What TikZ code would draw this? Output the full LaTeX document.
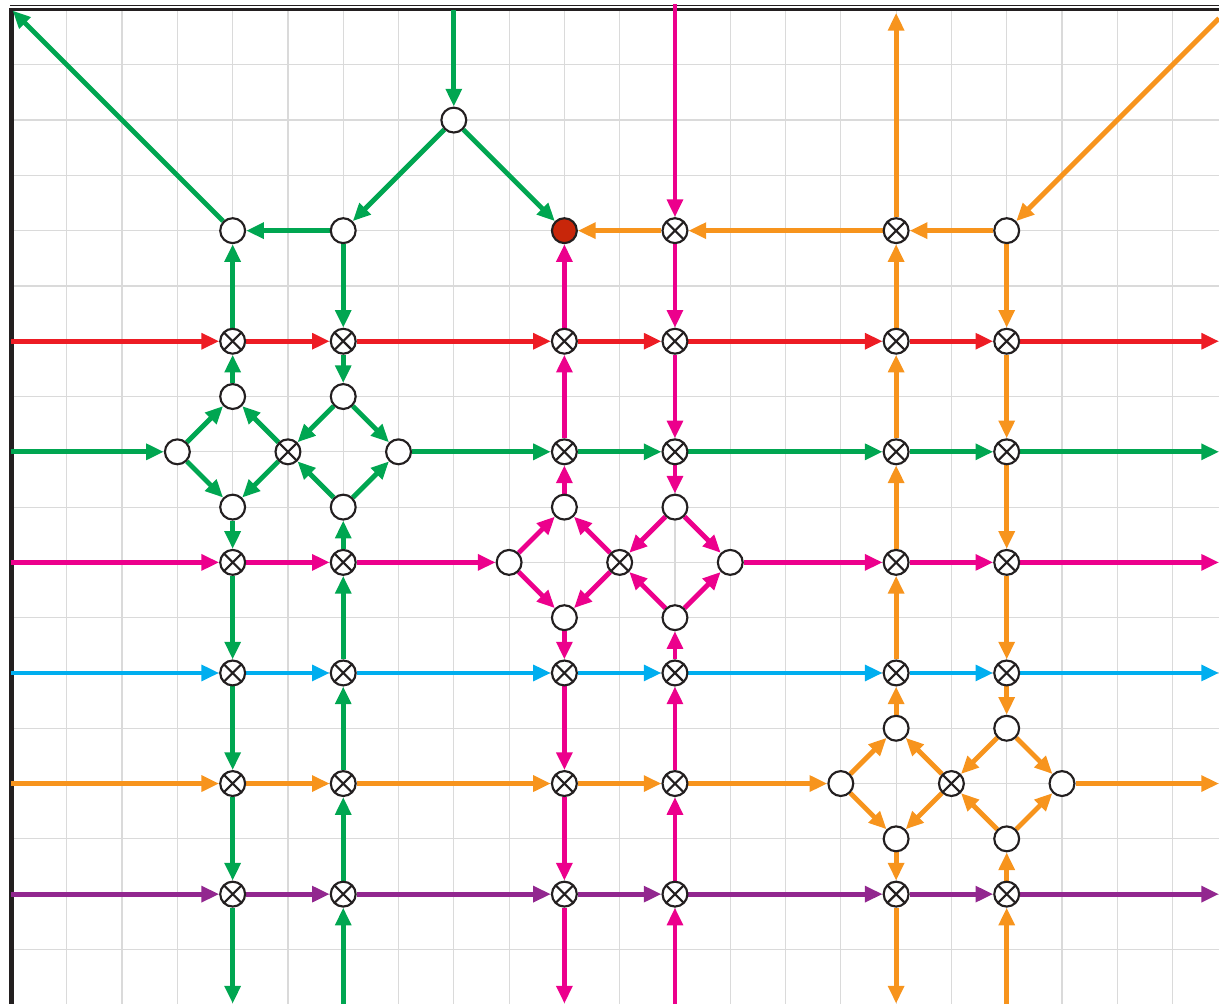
\documentclass[tikz,border=0pt]{standalone}
\usetikzlibrary{arrows.meta,backgrounds}
\definecolor{ink}{HTML}{231F20}
\definecolor{gridgray}{HTML}{DADADA}
\definecolor{sinkred}{HTML}{C8260A}
\definecolor{lgreen}{HTML}{00A651}
\definecolor{lred}{HTML}{ED1C24}
\definecolor{lpink}{HTML}{EC008C}
\definecolor{lblue}{HTML}{00AEEF}
\definecolor{lorange}{HTML}{F7941D}
\definecolor{lpurple}{HTML}{92278F}

\begin{document}
\begin{tikzpicture}[
      x=1cm, y=-1cm,
      hub/.style={circle, draw=ink, line width=1.1pt, fill=white,
                  minimum size=4.5mm, inner sep=0pt},
      mixer/.style={hub, path picture={
          \draw[ink, line width=1.1pt]
            (path picture bounding box.south west) -- (path picture bounding box.north east)
            (path picture bounding box.north west) -- (path picture bounding box.south east);}},
      sink/.style={hub, fill=sinkred},
      flow/.style={draw=#1, fill=#1, line width=2.5pt,
                   -{Triangle[length=3.2mm, width=2.8mm]}},
      gridline/.style={draw=gridgray, line width=0.6pt},
    ]
      \useasboundingbox (-0.208,-0.172) rectangle (21.84,17.98);

      % nodes, row by row
      \node[hub] (n8-2) at (8,2) {};
      \node[hub] (n4-4) at (4,4) {};   \node[hub] (n6-4) at (6,4) {};
      \node[sink] (n10-4) at (10,4) {}; \node[mixer] (n12-4) at (12,4) {};
      \node[mixer] (n16-4) at (16,4) {}; \node[hub] (n18-4) at (18,4) {};

      \node[mixer] (n4-6) at (4,6) {};   \node[mixer] (n6-6) at (6,6) {};
      \node[mixer] (n10-6) at (10,6) {}; \node[mixer] (n12-6) at (12,6) {};
      \node[mixer] (n16-6) at (16,6) {}; \node[mixer] (n18-6) at (18,6) {};

      \node[hub] (n4-7) at (4,7) {};     \node[hub] (n6-7) at (6,7) {};
      \node[hub] (n3-8) at (3,8) {};     \node[mixer] (n5-8) at (5,8) {};
      \node[hub] (n7-8) at (7,8) {};
      \node[mixer] (n10-8) at (10,8) {}; \node[mixer] (n12-8) at (12,8) {};
      \node[mixer] (n16-8) at (16,8) {}; \node[mixer] (n18-8) at (18,8) {};
      \node[hub] (n4-9) at (4,9) {};     \node[hub] (n6-9) at (6,9) {};
      \node[hub] (n10-9) at (10,9) {};   \node[hub] (n12-9) at (12,9) {};

      \node[mixer] (n4-10) at (4,10) {};   \node[mixer] (n6-10) at (6,10) {};
      \node[hub] (n9-10) at (9,10) {};     \node[mixer] (n11-10) at (11,10) {};
      \node[hub] (n13-10) at (13,10) {};
      \node[mixer] (n16-10) at (16,10) {}; \node[mixer] (n18-10) at (18,10) {};
      \node[hub] (n10-11) at (10,11) {};   \node[hub] (n12-11) at (12,11) {};

      \node[mixer] (n4-12) at (4,12) {};   \node[mixer] (n6-12) at (6,12) {};
      \node[mixer] (n10-12) at (10,12) {}; \node[mixer] (n12-12) at (12,12) {};
      \node[mixer] (n16-12) at (16,12) {}; \node[mixer] (n18-12) at (18,12) {};
      \node[hub] (n16-13) at (16,13) {};   \node[hub] (n18-13) at (18,13) {};

      \node[mixer] (n4-14) at (4,14) {};   \node[mixer] (n6-14) at (6,14) {};
      \node[mixer] (n10-14) at (10,14) {}; \node[mixer] (n12-14) at (12,14) {};
      \node[hub] (n15-14) at (15,14) {};   \node[mixer] (n17-14) at (17,14) {};
      \node[hub] (n19-14) at (19,14) {};
      \node[hub] (n16-15) at (16,15) {};   \node[hub] (n18-15) at (18,15) {};

      \node[mixer] (n4-16) at (4,16) {};   \node[mixer] (n6-16) at (6,16) {};
      \node[mixer] (n10-16) at (10,16) {}; \node[mixer] (n12-16) at (12,16) {};
      \node[mixer] (n16-16) at (16,16) {}; \node[mixer] (n18-16) at (18,16) {};

      % free ends at the frame
      \coordinate (corner) at (0.02,0.02);
      \coordinate (ne) at (21.84,0.16);
      \coordinate (top8) at (8,0);
      \coordinate (top12) at (12,-0.1);
      \coordinate (top16) at (16,0.06);
      \coordinate (in6) at (0,6);   \coordinate (out6) at (21.84,6);
      \coordinate (in8) at (0,8);   \coordinate (out8) at (21.84,8);
      \coordinate (in10) at (0,10); \coordinate (out10) at (21.84,10);
      \coordinate (in12) at (0,12); \coordinate (out12) at (21.84,12);
      \coordinate (in14) at (0,14); \coordinate (out14) at (21.84,14);
      \coordinate (in16) at (0,16); \coordinate (out16) at (21.84,16);
      \coordinate (end4) at (4,17.98);   \coordinate (end6) at (6,17.98);
      \coordinate (end10) at (10,17.98); \coordinate (end12) at (12,17.98);
      \coordinate (end16) at (16,17.98); \coordinate (end18) at (18,17.98);

      \begin{scope}[on background layer]
        \draw[gridline, step=1cm] (0,0) grid (21.84,17.98);
        \draw[ink, line width=0.6pt] (-0.03,-0.075) -- (21.84,-0.075);
        \draw[ink, line width=1.7pt] (0,0) -- (21.84,0);
        \draw[ink, line width=2.6pt] (0,-0.02) -- (0,17.98);

        % green
        \foreach \a/\b in {top8/n8-2, n8-2/n6-4, n8-2/n10-4, n6-4/n4-4,
            n4-4/corner, n6-4/n6-6, n4-6/n4-4, n4-7/n4-6, n6-6/n6-7,
            n3-8/n4-7, n3-8/n4-9, n5-8/n4-7, n5-8/n4-9,
            n6-7/n5-8, n6-9/n5-8, n6-7/n7-8, n6-9/n7-8, in8/n3-8,
            n7-8/n10-8, n10-8/n12-8, n12-8/n16-8, n16-8/n18-8, n18-8/out8,
            n4-9/n4-10, n4-10/n4-12, n4-12/n4-14, n4-14/n4-16, n4-16/end4,
            end6/n6-16, n6-16/n6-14, n6-14/n6-12, n6-12/n6-10, n6-10/n6-9}
          \draw[flow=lgreen] (\a) -- (\b);

        % red
        \foreach \a/\b in {in6/n4-6, n4-6/n6-6, n6-6/n10-6, n10-6/n12-6,
            n12-6/n16-6, n16-6/n18-6, n18-6/out6}
          \draw[flow=lred] (\a) -- (\b);

        % pink
        \foreach \a/\b in {top12/n12-4, n12-4/n12-6, n12-6/n12-8, n12-8/n12-9,
            n10-6/n10-4, n10-8/n10-6, n10-9/n10-8,
            n9-10/n10-9, n9-10/n10-11, n11-10/n10-9, n11-10/n10-11,
            n12-9/n11-10, n12-11/n11-10, n12-9/n13-10, n12-11/n13-10,
            in10/n4-10, n4-10/n6-10, n6-10/n9-10,
            n13-10/n16-10, n16-10/n18-10, n18-10/out10,
            n10-11/n10-12, n10-12/n10-14, n10-14/n10-16, n10-16/end10,
            end12/n12-16, n12-16/n12-14, n12-14/n12-12, n12-12/n12-11}
          \draw[flow=lpink] (\a) -- (\b);

        % blue
        \foreach \a/\b in {in12/n4-12, n4-12/n6-12, n6-12/n10-12, n10-12/n12-12,
            n12-12/n16-12, n16-12/n18-12, n18-12/out12}
          \draw[flow=lblue] (\a) -- (\b);

        % orange
        \foreach \a/\b in {ne/n18-4, n18-4/n16-4, n16-4/n12-4, n12-4/n10-4,
            n16-4/top16, n16-6/n16-4, n16-8/n16-6, n16-10/n16-8,
            n16-12/n16-10, n16-13/n16-12,
            n18-4/n18-6, n18-6/n18-8, n18-8/n18-10, n18-10/n18-12, n18-12/n18-13,
            n15-14/n16-13, n15-14/n16-15, n17-14/n16-13, n17-14/n16-15,
            n18-13/n17-14, n18-15/n17-14, n18-13/n19-14, n18-15/n19-14,
            in14/n4-14, n4-14/n6-14, n6-14/n10-14, n10-14/n12-14,
            n12-14/n15-14, n19-14/out14,
            n16-15/n16-16, n16-16/end16, end18/n18-16, n18-16/n18-15}
          \draw[flow=lorange] (\a) -- (\b);

        % purple
        \foreach \a/\b in {in16/n4-16, n4-16/n6-16, n6-16/n10-16, n10-16/n12-16,
            n12-16/n16-16, n16-16/n18-16, n18-16/out16}
          \draw[flow=lpurple] (\a) -- (\b);
      \end{scope}

    \end{tikzpicture}
\end{document}
